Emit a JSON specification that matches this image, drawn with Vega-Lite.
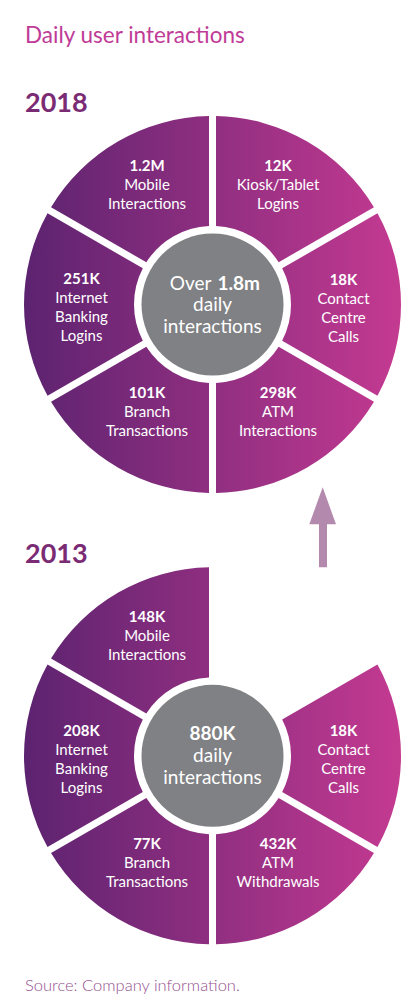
{
  "$schema": "https://vega.github.io/schema/vega-lite/v6.json",
  "width": 414,
  "height": 1008,
  "autosize": {"type": "fit", "contains": "padding"},
  "padding": {"left": 11, "top": 11, "right": 0, "bottom": 0},
  "background": "#ffffff",
  "config": {"view": {"fill": "#e5e6e8", "stroke": null}, "text": {"font": "Lato"}},
  "datasets": {
    "seg": [
      {"year": "2018", "idx": 1, "n": 1, "present": true, "value": "12K", "desc": "Kiosk/Tablet\nLogins"},
      {"year": "2018", "idx": 2, "n": 1, "present": true, "value": "18K", "desc": "Contact\nCentre\nCalls"},
      {"year": "2018", "idx": 3, "n": 1, "present": true, "value": "298K", "desc": "ATM\nInteractions"},
      {"year": "2018", "idx": 4, "n": 1, "present": true, "value": "101K", "desc": "Branch\nTransactions"},
      {"year": "2018", "idx": 5, "n": 1, "present": true, "value": "251K", "desc": "Internet\nBanking\nLogins"},
      {"year": "2018", "idx": 6, "n": 1, "present": true, "value": "1.2M", "desc": "Mobile\nInteractions"},
      {"year": "2013", "idx": 1, "n": 1, "present": false, "value": "", "desc": ""},
      {"year": "2013", "idx": 2, "n": 1, "present": true, "value": "18K", "desc": "Contact\nCentre\nCalls"},
      {"year": "2013", "idx": 3, "n": 1, "present": true, "value": "432K", "desc": "ATM\nWithdrawals"},
      {"year": "2013", "idx": 4, "n": 1, "present": true, "value": "77K", "desc": "Branch\nTransactions"},
      {"year": "2013", "idx": 5, "n": 1, "present": true, "value": "208K", "desc": "Internet\nBanking\nLogins"},
      {"year": "2013", "idx": 6, "n": 1, "present": true, "value": "148K", "desc": "Mobile\nInteractions"}
    ],
    "centre": [
      {"year": "2018", "lead": "Over", "total": "1.8m", "rest": "daily\ninteractions"},
      {"year": "2013", "lead": "", "total": "880K", "rest": "daily\ninteractions"}
    ]
  },
  "layer": [
    {
      "data": {"name": "seg"},
      "transform": [
        {"stack": "n", "groupby": ["year"], "sort": [{"field": "idx", "order": "ascending"}], "as": ["a0", "a1"]},
        {"filter": "datum.present"}
      ],
      "mark": {"type": "arc", "radius": 188.5, "radius2": 78.5, "padAngle": 0.03428},
      "encoding": {
        "y": {"field": "year", "type": "nominal", "scale": {"type": "point", "domain": ["2018", "2013"], "range": [293.5, 744.8], "padding": 0}, "axis": null},
        "theta": {"field": "a0", "type": "quantitative", "stack": null, "scale": {"domain": [0, 6], "range": [0, 6.283185307179586], "nice": false}},
        "theta2": {"field": "a1"},
        "color": {
          "condition": [
            {"test": "datum.idx == 1 || datum.idx == 3", "value": {"gradient": "linear", "x1": 0, "y1": 0, "x2": 1, "y2": 0, "stops": [{"offset": 0, "color": "#912f81"}, {"offset": 1, "color": "#bd388f"}]}},
            {"test": "datum.idx == 2", "value": {"gradient": "linear", "x1": 0, "y1": 0, "x2": 1, "y2": 0, "stops": [{"offset": 0, "color": "#a33387"}, {"offset": 1, "color": "#c43a91"}]}},
            {"test": "datum.idx == 4 || datum.idx == 6", "value": {"gradient": "linear", "x1": 0, "y1": 0, "x2": 1, "y2": 0, "stops": [{"offset": 0, "color": "#632572"}, {"offset": 1, "color": "#8f2e80"}]}}
          ],
          "value": {"gradient": "linear", "x1": 0, "y1": 0, "x2": 1, "y2": 0, "stops": [{"offset": 0, "color": "#5c2370"}, {"offset": 1, "color": "#7d2a7a"}]}
        }
      }
    },
    {
      "data": {"name": "centre"},
      "mark": {"type": "arc", "radius": 71, "theta": 0, "theta2": 6.283185307179586, "color": "#808184"},
      "encoding": {
        "y": {"field": "year", "type": "nominal", "scale": {"type": "point", "domain": ["2018", "2013"], "range": [293.5, 744.8], "padding": 0}, "axis": null}
      }
    },
    {
      "data": {"name": "seg"},
      "transform": [
        {"stack": "n", "groupby": ["year"], "sort": [{"field": "idx", "order": "ascending"}], "as": ["a0", "a1"]},
        {"filter": "datum.present"}
      ],
      "mark": {"type": "text", "radius": 131, "thetaOffset": 0.5236, "dy": -20, "align": "center", "baseline": "alphabetic", "fontSize": 15, "fontWeight": "bold", "color": "#ffffff"},
      "encoding": {
        "y": {"field": "year", "type": "nominal", "scale": {"type": "point", "domain": ["2018", "2013"], "range": [293.5, 744.8], "padding": 0}, "axis": null},
        "theta": {"field": "a0", "type": "quantitative", "stack": null, "scale": {"domain": [0, 6], "range": [0, 6.283185307179586], "nice": false}},
        "text": {"field": "value", "type": "nominal"}
      }
    },
    {
      "data": {"name": "seg"},
      "transform": [
        {"stack": "n", "groupby": ["year"], "sort": [{"field": "idx", "order": "ascending"}], "as": ["a0", "a1"]},
        {"filter": "datum.present"}
      ],
      "mark": {"type": "text", "radius": 131, "thetaOffset": 0.5236, "dy": -1, "align": "center", "baseline": "alphabetic", "fontSize": 15, "lineBreak": "\n", "lineHeight": 19, "color": "#ffffff"},
      "encoding": {
        "y": {"field": "year", "type": "nominal", "scale": {"type": "point", "domain": ["2018", "2013"], "range": [293.5, 744.8], "padding": 0}, "axis": null},
        "theta": {"field": "a0", "type": "quantitative", "stack": null, "scale": {"domain": [0, 6], "range": [0, 6.283185307179586], "nice": false}},
        "text": {"field": "desc", "type": "nominal"}
      }
    },
    {
      "data": {"name": "centre"},
      "mark": {"type": "text", "align": "right", "dx": -1, "dy": -15, "baseline": "alphabetic", "fontSize": 19, "color": "#ffffff"},
      "encoding": {
        "y": {"field": "year", "type": "nominal", "scale": {"type": "point", "domain": ["2018", "2013"], "range": [293.5, 744.8], "padding": 0}, "axis": null},
        "text": {"field": "lead", "type": "nominal"}
      }
    },
    {
      "data": {"name": "centre"},
      "transform": [{"filter": "datum.lead != ''"}],
      "mark": {"type": "text", "align": "left", "dx": 5, "dy": -15, "baseline": "alphabetic", "fontSize": 19, "fontWeight": "bold", "color": "#ffffff"},
      "encoding": {
        "y": {"field": "year", "type": "nominal", "scale": {"type": "point", "domain": ["2018", "2013"], "range": [293.5, 744.8], "padding": 0}, "axis": null},
        "text": {"field": "total", "type": "nominal"}
      }
    },
    {
      "data": {"name": "centre"},
      "transform": [{"filter": "datum.lead == ''"}],
      "mark": {"type": "text", "align": "center", "dy": -16, "baseline": "alphabetic", "fontSize": 19, "fontWeight": "bold", "color": "#ffffff"},
      "encoding": {
        "y": {"field": "year", "type": "nominal", "scale": {"type": "point", "domain": ["2018", "2013"], "range": [293.5, 744.8], "padding": 0}, "axis": null},
        "text": {"field": "total", "type": "nominal"}
      }
    },
    {
      "data": {"name": "centre"},
      "mark": {"type": "text", "align": "center", "dy": 6, "baseline": "alphabetic", "fontSize": 19, "lineBreak": "\n", "lineHeight": 22, "color": "#ffffff"},
      "encoding": {
        "y": {"field": "year", "type": "nominal", "scale": {"type": "point", "domain": ["2018", "2013"], "range": [293.5, 744.8], "padding": 0}, "axis": null},
        "text": {"field": "rest", "type": "nominal"}
      }
    },
    {
      "data": {"name": "centre"},
      "mark": {"type": "text", "align": "left", "dx": -187.5, "dy": -193, "baseline": "alphabetic", "fontSize": 27, "fontWeight": "bold", "color": "#7b2b74"},
      "encoding": {
        "y": {"field": "year", "type": "nominal", "scale": {"type": "point", "domain": ["2018", "2013"], "range": [293.5, 744.8], "padding": 0}, "axis": null},
        "text": {"field": "year", "type": "nominal"}
      }
    },
    {
      "data": {"values": [{"label": "Daily user interactions"}]},
      "mark": {"type": "text", "align": "left", "dx": -187.5, "dy": -467, "baseline": "alphabetic", "fontSize": 22.5, "color": "#bf3b97"},
      "encoding": {"text": {"field": "label", "type": "nominal"}}
    },
    {
      "data": {"values": [{"label": "Source: Company information."}]},
      "mark": {"type": "text", "align": "left", "dx": -187.5, "dy": 481, "baseline": "alphabetic", "fontSize": 16.5, "fontWeight": 300, "color": "#94508f"},
      "encoding": {"text": {"field": "label", "type": "nominal"}}
    },
    {
      "data": {"values": [{"label": "growth 2013 to 2018"}]},
      "mark": {"type": "point", "shape": "M11.02,-2.22L12.35,1.48L11.45,1.48L11.45,5.78L10.65,5.78L10.65,1.48L9.68,1.48Z", "size": 400, "filled": true, "opacity": 1, "strokeWidth": 0, "color": "#b38aad"},
      "encoding": {}
    }
  ]
}
